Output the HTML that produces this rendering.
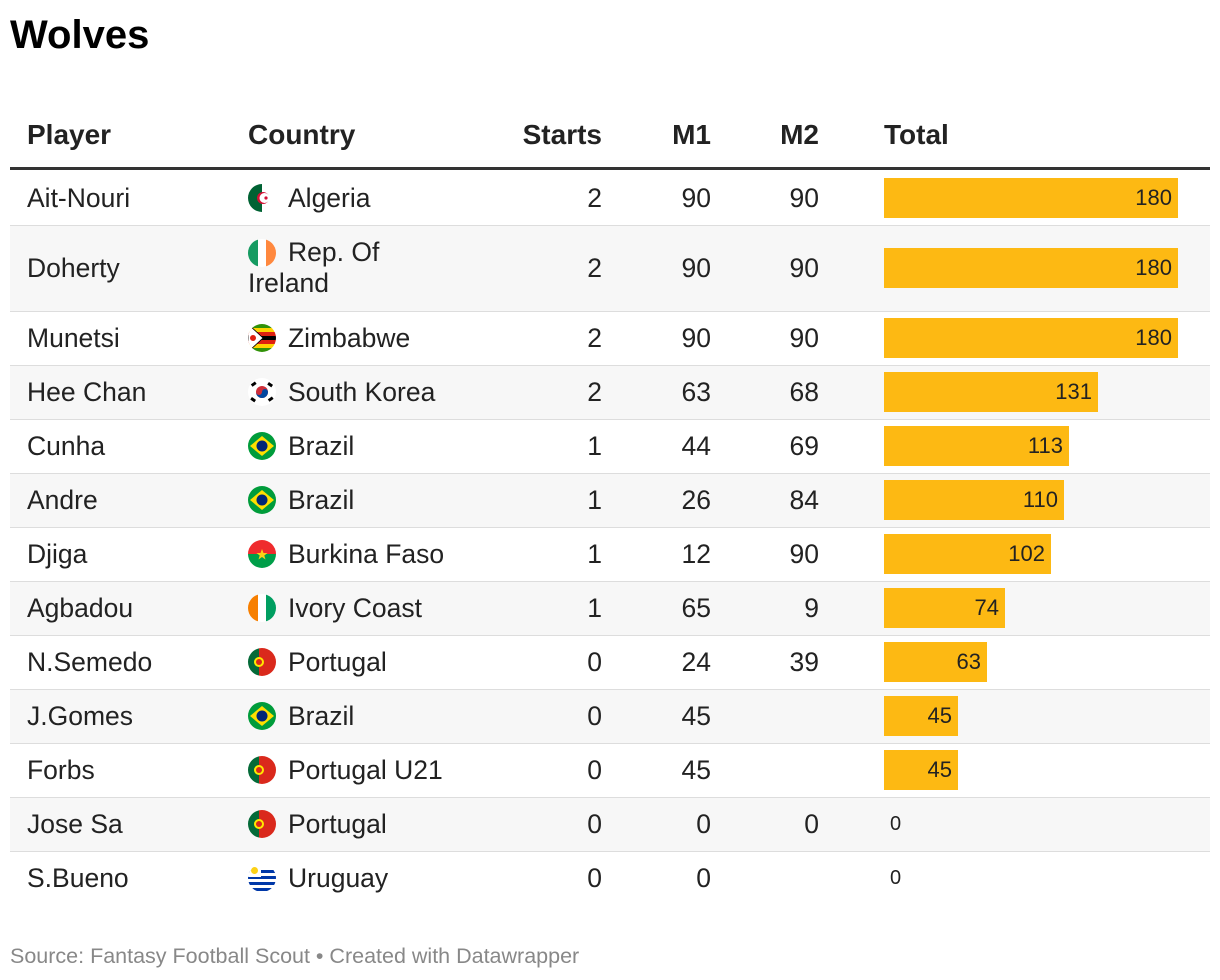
<!DOCTYPE html><html><head><meta charset="utf-8"><style>
body{margin:0;width:1220px;height:980px;background:#fff;font-family:"Liberation Sans",sans-serif;color:#222;position:relative;overflow:hidden}
.a{position:absolute}
h1{position:absolute;left:10px;top:13px;margin:0;font-size:40px;font-weight:bold;color:#000}
.h{position:absolute;top:119px;font-size:28px;font-weight:bold;color:#222}
.r{position:absolute;left:10px;width:1200px;border-bottom:1px solid #ddd;box-sizing:border-box}
.g{background:#f7f7f7}
.t{position:absolute;font-size:26.5px;line-height:31px}
.n{text-align:right;width:80px}
.f{position:absolute;left:248px;width:28px;height:28px}
.b{position:absolute;left:884px;height:40px;background:#fdb913;font-size:22px;line-height:40px;text-align:right;box-sizing:border-box;padding-right:6px;color:#222}
.z{position:absolute;left:890px;font-size:20px}
.src{position:absolute;left:10px;top:944px;font-size:21.5px;color:#888}
</style></head><body>
<svg width="0" height="0" style="position:absolute"><defs><clipPath id="c"><circle cx="14" cy="14" r="14"/></clipPath></defs></svg>
<h1>Wolves</h1>
<div class="h" style="left:27px">Player</div>
<div class="h" style="left:248px">Country</div>
<div class="h" style="left:502px;width:100px;text-align:right">Starts</div>
<div class="h" style="left:631px;width:80px;text-align:right">M1</div>
<div class="h" style="left:739px;width:80px;text-align:right">M2</div>
<div class="h" style="left:884px">Total</div>
<div class="a" style="left:10px;top:167px;width:1200px;height:3px;background:#333"></div>

<div class="r" style="top:170px;height:56px"></div>
<div class="r g" style="top:226px;height:86px"></div>
<div class="r" style="top:312px;height:54px"></div>
<div class="r g" style="top:366px;height:54px"></div>
<div class="r" style="top:420px;height:54px"></div>
<div class="r g" style="top:474px;height:54px"></div>
<div class="r" style="top:528px;height:54px"></div>
<div class="r g" style="top:582px;height:54px"></div>
<div class="r" style="top:636px;height:54px"></div>
<div class="r g" style="top:690px;height:54px"></div>
<div class="r" style="top:744px;height:54px"></div>
<div class="r g" style="top:798px;height:54px"></div>
<div class="r" style="top:852px;height:54px;border-bottom:none"></div>

<!-- flags -->
<svg class="f" style="top:184px" viewBox="0 0 28 28"><g clip-path="url(#c)"><rect width="14" height="28" fill="#006233"/><rect x="14" width="14" height="28" fill="#fff"/><circle cx="15" cy="14" r="6" fill="#d21034"/><circle cx="16.5" cy="14" r="5" fill="#fff"/><circle cx="18" cy="14" r="1.6" fill="#d21034"/></g></svg>
<svg class="f" style="top:239px" viewBox="0 0 28 28"><g clip-path="url(#c)"><rect width="10" height="28" fill="#169b62"/><rect x="10" width="8" height="28" fill="#fff"/><rect x="18" width="10" height="28" fill="#ff883e"/></g></svg>
<svg class="f" style="top:324px" viewBox="0 0 28 28"><g clip-path="url(#c)"><rect width="28" height="4" fill="#319208"/><rect y="4" width="28" height="4" fill="#ffd200"/><rect y="8" width="28" height="4" fill="#de2010"/><rect y="12" width="28" height="4" fill="#000"/><rect y="16" width="28" height="4" fill="#de2010"/><rect y="20" width="28" height="4" fill="#ffd200"/><rect y="24" width="28" height="4" fill="#319208"/><polygon points="0,0 15,14 0,28" fill="#fff" stroke="#000" stroke-width="0.8"/><circle cx="5" cy="14" r="3" fill="#de2010"/></g></svg>
<svg class="f" style="top:378px" viewBox="0 0 28 28"><g clip-path="url(#c)"><rect width="28" height="28" fill="#fff"/><circle cx="14" cy="14" r="6" fill="#cd2e3a"/><path d="M8,14a6,6 0 0 0 12,0a3,3 0 0 0 -6,0a3,3 0 0 1 -6,0z" fill="#0047a0"/><g fill="#000"><rect x="3" y="5" width="5" height="3" transform="rotate(-35 5 6)"/><rect x="20" y="5" width="5" height="3" transform="rotate(35 22 6)"/><rect x="3" y="20" width="5" height="3" transform="rotate(35 5 21)"/><rect x="20" y="20" width="5" height="3" transform="rotate(-35 22 21)"/></g></g></svg>
<svg class="f" style="top:432px" viewBox="0 0 28 28"><g clip-path="url(#c)"><rect width="28" height="28" fill="#009c3b"/><polygon points="14,4 26,14 14,24 2,14" fill="#ffdf00"/><circle cx="14" cy="14" r="5.5" fill="#002776"/></g></svg>
<svg class="f" style="top:486px" viewBox="0 0 28 28"><g clip-path="url(#c)"><rect width="28" height="28" fill="#009c3b"/><polygon points="14,4 26,14 14,24 2,14" fill="#ffdf00"/><circle cx="14" cy="14" r="5.5" fill="#002776"/></g></svg>
<svg class="f" style="top:540px" viewBox="0 0 28 28"><g clip-path="url(#c)"><rect width="28" height="14" fill="#ef2b2d"/><rect y="14" width="28" height="14" fill="#009e49"/><polygon points="14,9 15.5,13 19.5,13 16.3,15.5 17.5,19.5 14,17 10.5,19.5 11.7,15.5 8.5,13 12.5,13" fill="#fcd116"/></g></svg>
<svg class="f" style="top:594px" viewBox="0 0 28 28"><g clip-path="url(#c)"><rect width="10" height="28" fill="#f77f00"/><rect x="10" width="8" height="28" fill="#fff"/><rect x="18" width="10" height="28" fill="#009e60"/></g></svg>
<svg class="f" style="top:648px" viewBox="0 0 28 28"><g clip-path="url(#c)"><rect width="11" height="28" fill="#046a38"/><rect x="11" width="17" height="28" fill="#da291c"/><circle cx="11" cy="14" r="5" fill="#ffe900"/><circle cx="11" cy="14" r="3" fill="#da291c"/></g></svg>
<svg class="f" style="top:702px" viewBox="0 0 28 28"><g clip-path="url(#c)"><rect width="28" height="28" fill="#009c3b"/><polygon points="14,4 26,14 14,24 2,14" fill="#ffdf00"/><circle cx="14" cy="14" r="5.5" fill="#002776"/></g></svg>
<svg class="f" style="top:756px" viewBox="0 0 28 28"><g clip-path="url(#c)"><rect width="11" height="28" fill="#046a38"/><rect x="11" width="17" height="28" fill="#da291c"/><circle cx="11" cy="14" r="5" fill="#ffe900"/><circle cx="11" cy="14" r="3" fill="#da291c"/></g></svg>
<svg class="f" style="top:810px" viewBox="0 0 28 28"><g clip-path="url(#c)"><rect width="11" height="28" fill="#046a38"/><rect x="11" width="17" height="28" fill="#da291c"/><circle cx="11" cy="14" r="5" fill="#ffe900"/><circle cx="11" cy="14" r="3" fill="#da291c"/></g></svg>
<svg class="f" style="top:864px" viewBox="0 0 28 28"><g clip-path="url(#c)"><rect width="28" height="28" fill="#fff"/><rect y="6" width="28" height="3" fill="#0038a8"/><rect y="12" width="28" height="3" fill="#0038a8"/><rect y="18" width="28" height="3" fill="#0038a8"/><rect y="24" width="28" height="3" fill="#0038a8"/><rect width="13" height="13" fill="#fff"/><circle cx="6.5" cy="6.5" r="3.5" fill="#fcd116"/></g></svg>

<!-- text -->
<div class="t" style="left:27px;top:183px">Ait-Nouri</div><div class="t" style="left:288px;top:183px">Algeria</div><div class="t n" style="left:522px;top:183px">2</div><div class="t n" style="left:631px;top:183px">90</div><div class="t n" style="left:739px;top:183px">90</div>
<div class="t" style="left:27px;top:253px">Doherty</div><div class="t" style="left:248px;top:237px;text-indent:40px;width:200px">Rep. Of Ireland</div><div class="t n" style="left:522px;top:253px">2</div><div class="t n" style="left:631px;top:253px">90</div><div class="t n" style="left:739px;top:253px">90</div>
<div class="t" style="left:27px;top:323px">Munetsi</div><div class="t" style="left:288px;top:323px">Zimbabwe</div><div class="t n" style="left:522px;top:323px">2</div><div class="t n" style="left:631px;top:323px">90</div><div class="t n" style="left:739px;top:323px">90</div>
<div class="t" style="left:27px;top:377px">Hee Chan</div><div class="t" style="left:288px;top:377px">South Korea</div><div class="t n" style="left:522px;top:377px">2</div><div class="t n" style="left:631px;top:377px">63</div><div class="t n" style="left:739px;top:377px">68</div>
<div class="t" style="left:27px;top:431px">Cunha</div><div class="t" style="left:288px;top:431px">Brazil</div><div class="t n" style="left:522px;top:431px">1</div><div class="t n" style="left:631px;top:431px">44</div><div class="t n" style="left:739px;top:431px">69</div>
<div class="t" style="left:27px;top:485px">Andre</div><div class="t" style="left:288px;top:485px">Brazil</div><div class="t n" style="left:522px;top:485px">1</div><div class="t n" style="left:631px;top:485px">26</div><div class="t n" style="left:739px;top:485px">84</div>
<div class="t" style="left:27px;top:539px">Djiga</div><div class="t" style="left:288px;top:539px">Burkina Faso</div><div class="t n" style="left:522px;top:539px">1</div><div class="t n" style="left:631px;top:539px">12</div><div class="t n" style="left:739px;top:539px">90</div>
<div class="t" style="left:27px;top:593px">Agbadou</div><div class="t" style="left:288px;top:593px">Ivory Coast</div><div class="t n" style="left:522px;top:593px">1</div><div class="t n" style="left:631px;top:593px">65</div><div class="t n" style="left:739px;top:593px">9</div>
<div class="t" style="left:27px;top:647px">N.Semedo</div><div class="t" style="left:288px;top:647px">Portugal</div><div class="t n" style="left:522px;top:647px">0</div><div class="t n" style="left:631px;top:647px">24</div><div class="t n" style="left:739px;top:647px">39</div>
<div class="t" style="left:27px;top:701px">J.Gomes</div><div class="t" style="left:288px;top:701px">Brazil</div><div class="t n" style="left:522px;top:701px">0</div><div class="t n" style="left:631px;top:701px">45</div>
<div class="t" style="left:27px;top:755px">Forbs</div><div class="t" style="left:288px;top:755px">Portugal U21</div><div class="t n" style="left:522px;top:755px">0</div><div class="t n" style="left:631px;top:755px">45</div>
<div class="t" style="left:27px;top:809px">Jose Sa</div><div class="t" style="left:288px;top:809px">Portugal</div><div class="t n" style="left:522px;top:809px">0</div><div class="t n" style="left:631px;top:809px">0</div><div class="t n" style="left:739px;top:809px">0</div>
<div class="t" style="left:27px;top:863px">S.Bueno</div><div class="t" style="left:288px;top:863px">Uruguay</div><div class="t n" style="left:522px;top:863px">0</div><div class="t n" style="left:631px;top:863px">0</div>

<!-- bars -->
<div class="b" style="top:178px;width:294px">180</div>
<div class="b" style="top:248px;width:294px">180</div>
<div class="b" style="top:318px;width:294px">180</div>
<div class="b" style="top:372px;width:214px">131</div>
<div class="b" style="top:426px;width:185px">113</div>
<div class="b" style="top:480px;width:180px">110</div>
<div class="b" style="top:534px;width:167px">102</div>
<div class="b" style="top:588px;width:121px">74</div>
<div class="b" style="top:642px;width:103px">63</div>
<div class="b" style="top:696px;width:74px">45</div>
<div class="b" style="top:750px;width:74px">45</div>
<div class="z" style="top:813px">0</div>
<div class="z" style="top:867px">0</div>

<div class="src">Source: Fantasy Football Scout • Created with Datawrapper</div>
</body></html>
